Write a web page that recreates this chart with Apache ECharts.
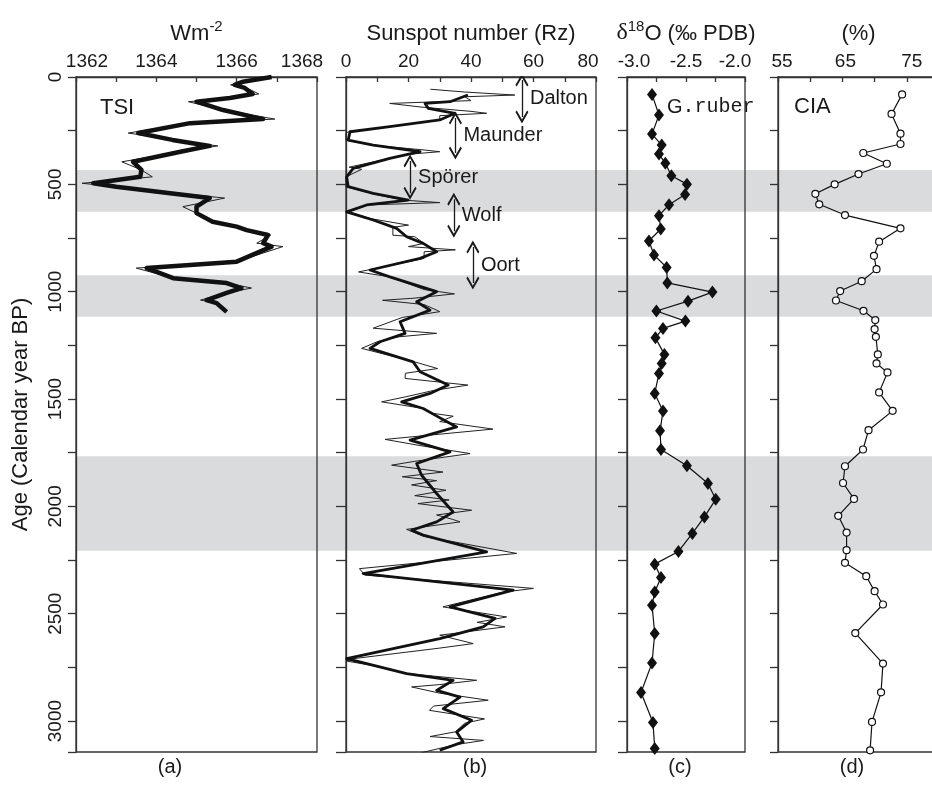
<!DOCTYPE html>
<html>
<head>
<meta charset="utf-8">
<title>TSI / sunspot / d18O / CIA</title>
<script src="https://cdn.jsdelivr.net/npm/echarts@6/dist/echarts.min.js"></script>
<style>
html,body{margin:0;padding:0;background:#fff;}
#main{width:932px;height:786px;}
</style>
</head>
<body>
<div id="main"></div>
<script>
// all series are [age (cal yr BP), value]
var tsiThick = [[0,1366.87],[22,1366.16],[37,1365.95],[51,1366.2],[79,1366.4],[98,1365.83],[115,1365.0],[154,1365.66],[196,1366.66],[215,1364.84],[261,1363.55],[293,1364.4],[321,1365.33],[348,1364.6],[395,1363.42],[433,1363.63],[465,1363.6],[495,1362.43],[511,1363.0],[564,1365.33],[604,1365.0],[634,1365.0],[674,1365.4],[697,1366.0],[713,1366.25],[736,1366.78],[774,1366.66],[790,1366.87],[860,1366.0],[890,1363.76],[937,1364.42],[960,1365.75],[983,1366.12],[1006,1365.75],[1039,1365.25],[1053,1365.5],[1094,1365.75]];
var tsiThin = [[0,1366.9],[22,1366.1],[37,1365.85],[51,1366.25],[79,1366.55],[98,1365.8],[115,1364.8],[154,1365.66],[196,1366.95],[215,1364.84],[261,1363.3],[293,1364.4],[321,1365.53],[348,1364.6],[395,1363.14],[433,1363.63],[465,1363.9],[495,1362.15],[511,1363.0],[564,1365.7],[604,1364.66],[634,1365.0],[674,1365.4],[697,1366.0],[713,1366.25],[736,1366.85],[774,1366.5],[790,1367.15],[860,1366.0],[890,1363.5],[937,1364.42],[960,1365.75],[983,1366.37],[1006,1365.75],[1039,1365.1],[1053,1365.5],[1094,1365.75]];

var sunThick = [[84,39],[115,33.3],[123,25.3],[146,26.3],[169,34.9],[200,30],[231,14],[255,1.3],[294,0.7],[317,8.7],[348,23.7],[379,14],[426,2.3],[465,0.2],[511,0.7],[542,8.7],[573,19.9],[596,6.6],[628,0.2],[666,8.7],[705,16.2],[744,19.4],[775,24.7],[814,29],[845,23.7],[899,7.7],[931,14],[1000,29],[1047,22.6],[1086,26.9],[1140,17.3],[1194,18.9],[1233,10.9],[1264,7.7],[1327,21.5],[1373,23.7],[1435,32.7],[1474,26.9],[1513,17.8],[1544,24.7],[1583,29.5],[1630,35.4],[1691,20.5],[1746,33.3],[1800,22.6],[1855,24.2],[1940,29],[2026,34.3],[2072,29],[2111,21],[2134,24.7],[2212,45],[2313,5.5],[2390,53.5],[2468,33.3],[2522,47.7],[2561,43.9],[2616,30],[2709,0.2],[2779,19.4],[2810,34.3],[2857,29],[2888,36.5],[2942,31.1],[2996,40.2],[3051,35.4],[3097,37.5],[3136,30]];
var sunThin = [[57,27],[70,38],[84,54],[92,38],[110,40],[123,14],[131,14],[140,24],[160,40],[169,45],[180,30],[200,30],[231,14],[255,1],[260,0],[294,0],[317,8],[340,25],[348,30],[360,20],[379,14],[420,1],[430,5],[465,0],[511,0],[545,9],[573,18],[585,30],[596,7],[628,1],[660,8],[690,20],[700,15],[737,15],[744,22],[775,25],[790,20],[805,35],[814,25],[845,25],[899,7],[908,4],[931,14],[990,25],[1010,34.7],[1030,22],[1040,11.7],[1060,25],[1086,29],[1093,30],[1120,18],[1170,8.7],[1194,29],[1210,17],[1233,10],[1264,5],[1290,12],[1327,22],[1358,29.3],[1380,19],[1404,18.9],[1435,39],[1460,28],[1490,19],[1513,11.4],[1544,24.7],[1565,27],[1580,34.3],[1605,30],[1640,47],[1688,12.5],[1720,25],[1754,39.7],[1790,22],[1808,14.6],[1840,31],[1862,18],[1880,29],[1900,21],[1925,32],[1950,22],[1970,33],[1987,23],[2018,40.2],[2040,29],[2060,34],[2072,36.5],[2107,19.4],[2140,25],[2219,54.6],[2240,40],[2290,4.3],[2320,6],[2382,60],[2400,50],[2468,31],[2515,51.4],[2540,42],[2561,50.9],[2600,30],[2639,40.7],[2660,30],[2709,2.5],[2720,0],[2740,8],[2779,20],[2810,41.8],[2830,30],[2841,21],[2870,30],[2903,45.5],[2930,28],[2950,26.7],[2990,44.3],[3010,38],[3050,35],[3072,26.9],[3090,44],[3110,35],[3147,24.2]];

var d18o = [[81,-2.788],[177,-2.729],[266,-2.788],[317,-2.706],[359,-2.729],[402,-2.675],[460,-2.624],[499,-2.492],[547,-2.508],[595,-2.644],[646,-2.729],[708,-2.714],[764,-2.814],[829,-2.771],[887,-2.664],[959,-2.658],[1002,-2.276],[1044,-2.483],[1090,-2.751],[1137,-2.505],[1171,-2.695],[1215,-2.759],[1292,-2.683],[1334,-2.706],[1381,-2.729],[1474,-2.765],[1556,-2.695],[1648,-2.72],[1735,-2.712],[1811,-2.492],[1893,-2.314],[1967,-2.248],[2049,-2.344],[2126,-2.446],[2210,-2.564],[2269,-2.765],[2331,-2.712],[2399,-2.765],[2460,-2.788],[2592,-2.765],[2729,-2.788],[2867,-2.881],[3007,-2.78],[3128,-2.765]];

var cia = [[81,74.27],[172,72.63],[264,74.02],[312,74.02],[354,68.24],[404,71.9],[452,67.5],[500,63.8],[544,60.8],[593,61.4],[643,65.4],[705,74.02],[767,70.7],[833,69.9],[895,70.3],[951,68.0],[997,64.65],[1041,64.0],[1089,68.27],[1132,70.1],[1174,70.0],[1210,70.2],[1292,70.5],[1334,70.3],[1376,72.0],[1469,70.7],[1555,72.8],[1645,69.06],[1735,68.2],[1813,65.4],[1891,65.1],[1965,66.8],[2044,64.35],[2122,65.65],[2204,65.65],[2263,65.4],[2325,68.7],[2395,70.0],[2457,71.3],[2590,67.0],[2732,71.3],[2866,71.0],[3004,69.6],[3136,69.3]];

var bands = [[433,628],[923,1117],[1766,2207]];

var minimaNames = ['Dalton','Maunder','Sp\u00f6rer','Wolf','Oort'];
var minimaX = [56.3,35,20.5,34.5,40.6];
var minimaFrom = [14,191,391,569,792];
var minimaTo = [186,354,541,718,960];

var tsiTicks = [1362,1364,1366,1368];
var sunTicks = [0,20,40,60,80];
var d18oTicks = [-3.0,-2.5,-2.0];
var ciaTicks = [55,65,75];

var FONT = '"Liberation Sans", Arial, Helvetica, sans-serif';
var INK = '#1a1a1a';
var AXC = '#333';
var AGE_MAX = 3144;

function flip(arr){
    return arr.map(function(p){return [p[1], p[0]];});
}

// top axis labels; edge labels nudged inward like the original
function topAxis(grid, min, max, interval, name, nameRich, ticks, shifts, digits){
    var rich = {};
    shifts.forEach(function(s, i){
        rich['s' + i] = {
            fontSize: 19, fontFamily: FONT, color: INK,
            padding: s[1] > 0 ? [0, 0, 0, 2 * s[1]] : [0, -2 * s[1], 0, 0]
        };
    });
    return {
        type: 'value', gridIndex: grid, position: 'top',
        min: min, max: max, interval: interval,
        axisLine: {show: true, lineStyle: {color: AXC, width: 1.3}},
        axisTick: {show: true, inside: true, length: 5, lineStyle: {color: AXC, width: 1.3}},
        splitLine: {show: false},
        axisLabel: {
            show: true, fontSize: 19, fontFamily: FONT, color: INK, margin: 6,
            rich: rich,
            formatter: function(v){
                var hit = ticks.some(function(t){return Math.abs(t - v) < 1e-6;});
                if(!hit) return '';
                var s = digits ? v.toFixed(digits) : String(v);
                for(var i = 0; i < shifts.length; i++){
                    if(Math.abs(shifts[i][0] - v) < 1e-6) return '{s' + i + '|' + s + '}';
                }
                return s;
            }
        },
        name: name, nameLocation: 'middle', nameGap: 32,
        nameTextStyle: {fontSize: 22, fontFamily: FONT, color: INK, rich: nameRich},
        z: 3
    };
}

function ageAxis(grid, withLabels, tickLen){
    return {
        type: 'value', gridIndex: grid, min: 0, max: AGE_MAX, interval: 250, inverse: true,
        axisLine: {show: true, lineStyle: {color: AXC, width: 1.3}},
        axisTick: {show: true, inside: false, length: tickLen, lineStyle: {color: AXC, width: 1.3}},
        splitLine: {show: false},
        axisLabel: withLabels ? {
            show: true, rotate: 90, fontSize: 19, fontFamily: FONT, color: INK, margin: 11,
            formatter: function(v){return v % 500 === 0 ? String(v) : '';}
        } : {show: false},
        name: withLabels ? 'Age (Calendar year BP)' : '',
        nameLocation: 'middle', nameGap: 44,
        nameTextStyle: {fontSize: 22, fontFamily: FONT, color: INK},
        z: 3
    };
}

function panelGrid(left, right){
    return {left: left, right: right, top: 77, bottom: 34, show: true, borderColor: AXC, borderWidth: 1.3,
        backgroundColor: 'transparent', containLabel: false, outerBoundsMode: 'none', z: 3};
}

var supRich = {
    a: {fontSize: 22, fontFamily: FONT, color: INK, lineHeight: 26, verticalAlign: 'bottom'},
    b: {fontSize: 15, fontFamily: FONT, color: INK, lineHeight: 15, verticalAlign: 'top'},
    d: {fontSize: 24, fontFamily: '"Liberation Serif", "DejaVu Serif", serif', color: INK, lineHeight: 26, verticalAlign: 'bottom'}
};

var arrowHead = 'path://M5,0 L10,7 L9,8 L5,2.4 L1,8 L0,7 Z';

var arrowData = minimaNames.map(function(n, i){
    return {coords: [[minimaX[i], minimaFrom[i]], [minimaX[i], minimaTo[i]]]};
});
var minimaLabels = minimaNames.map(function(n, i){
    return {name: n, value: [minimaX[i], (minimaFrom[i] + minimaTo[i]) / 2]};
});

var myChart = echarts.init(document.getElementById('main'), null, {renderer: 'canvas'});

var option = {
    backgroundColor: '#fff',
    animation: false,
    grid: [
        panelGrid(76, 615),
        panelGrid(346, 336),
        panelGrid(627, 187),
        panelGrid(778, -7),
        {left: 76, right: -7, top: 77, bottom: 34, show: false, containLabel: false, outerBoundsMode: 'none', z: 0}
    ],
    xAxis: [
        topAxis(0, 1362, 1368, 1, '{a|Wm}{b|-2}', supRich, tsiTicks, [[1362, 11], [1368, -15]], 0),
        topAxis(1, 0, 80, 10, 'Sunspot number (Rz)', supRich, sunTicks, [[80, -8]], 0),
        topAxis(2, -3.0, -2.0, 0.25, '{d|\u03b4}{b|18}{a|O (\u2030 PDB)}', supRich, d18oTicks, [[-3.0, 7], [-2.0, -10]], 1),
        topAxis(3, 55, 80, 5, '(%)', supRich, ciaTicks, [[55, 4], [65, 3], [75, 5]], 0),
        {type: 'value', gridIndex: 4, min: 0, max: 1, show: false}
    ],
    yAxis: [
        ageAxis(0, true, 8),
        ageAxis(1, false, 10),
        ageAxis(2, false, 9),
        ageAxis(3, false, 8),
        {type: 'value', gridIndex: 4, min: 0, max: AGE_MAX, inverse: true, show: false}
    ],
    series: [
        {
            type: 'custom', xAxisIndex: 4, yAxisIndex: 4, z: 0, silent: true,
            data: bands,
            renderItem: function(params, api){
                var p0 = api.coord([0, api.value(0)]);
                var p1 = api.coord([1, api.value(1)]);
                return {type: 'rect', shape: {x: p0[0], y: p0[1], width: p1[0] - p0[0], height: p1[1] - p0[1]},
                    style: {fill: '#dadbdd'}};
            }
        },
        {type: 'line', xAxisIndex: 0, yAxisIndex: 0, data: flip(tsiThin), showSymbol: false, z: 4,
            lineStyle: {color: '#222', width: 1}},
        {type: 'line', xAxisIndex: 0, yAxisIndex: 0, data: flip(tsiThick), showSymbol: false, z: 5,
            lineStyle: {color: '#111', width: 4.5, join: 'round'}},
        {type: 'line', xAxisIndex: 1, yAxisIndex: 1, data: flip(sunThin), showSymbol: false, z: 4,
            lineStyle: {color: '#222', width: 1}},
        {type: 'line', xAxisIndex: 1, yAxisIndex: 1, data: flip(sunThick), showSymbol: false, z: 5,
            lineStyle: {color: '#111', width: 2.8, join: 'round'}},
        {type: 'line', xAxisIndex: 2, yAxisIndex: 2, data: flip(d18o), z: 5,
            symbol: 'diamond', symbolSize: [10, 13], showAllSymbol: true,
            itemStyle: {color: '#111'}, lineStyle: {color: '#111', width: 1.2}},
        {type: 'line', xAxisIndex: 3, yAxisIndex: 3, data: flip(cia), z: 5,
            symbol: 'circle', symbolSize: 7, showAllSymbol: true,
            itemStyle: {color: '#fff', borderColor: '#111', borderWidth: 1.2}, lineStyle: {color: '#111', width: 1.2}},
        {type: 'lines', coordinateSystem: 'cartesian2d', xAxisIndex: 1, yAxisIndex: 1, z: 6, silent: true,
            symbol: [arrowHead, arrowHead], symbolSize: 13,
            itemStyle: {color: '#1a1a1a', opacity: 1},
            lineStyle: {color: '#1a1a1a', width: 1.3, opacity: 1, curveness: 0},
            data: arrowData},
        {type: 'scatter', xAxisIndex: 1, yAxisIndex: 1, z: 6, symbolSize: 0, silent: true,
            itemStyle: {opacity: 1},
            data: minimaLabels,
            label: {show: true, position: 'right', distance: 8, formatter: '{b}', opacity: 1,
                fontSize: 20, fontFamily: FONT, color: INK}}
    ],
    graphic: [
        {type: 'text', x: 100, y: 108, z: 10, style: {text: 'TSI', font: '22px ' + FONT, fill: INK, verticalAlign: 'middle'}},
        {type: 'text', x: 794, y: 107, z: 10, style: {text: 'CIA', font: '22px ' + FONT, fill: INK, verticalAlign: 'middle'}},
        {type: 'text', x: 667, y: 107, z: 10, style: {
            text: '{g|G}{m|.ruber}', verticalAlign: 'middle',
            rich: {
                g: {fontSize: 20, fontFamily: FONT, fill: INK},
                m: {fontSize: 20, fontFamily: '"Liberation Mono", "Courier New", monospace', fill: INK}
            }
        }},
        {type: 'text', x: 170, y: 767, z: 10, style: {text: '(a)', font: '20px ' + FONT, fill: INK, align: 'center', verticalAlign: 'middle'}},
        {type: 'text', x: 475, y: 767, z: 10, style: {text: '(b)', font: '20px ' + FONT, fill: INK, align: 'center', verticalAlign: 'middle'}},
        {type: 'text', x: 680, y: 767, z: 10, style: {text: '(c)', font: '20px ' + FONT, fill: INK, align: 'center', verticalAlign: 'middle'}},
        {type: 'text', x: 852, y: 767, z: 10, style: {text: '(d)', font: '20px ' + FONT, fill: INK, align: 'center', verticalAlign: 'middle'}}
    ]
};

myChart.setOption(option);
</script>
</body>
</html>
